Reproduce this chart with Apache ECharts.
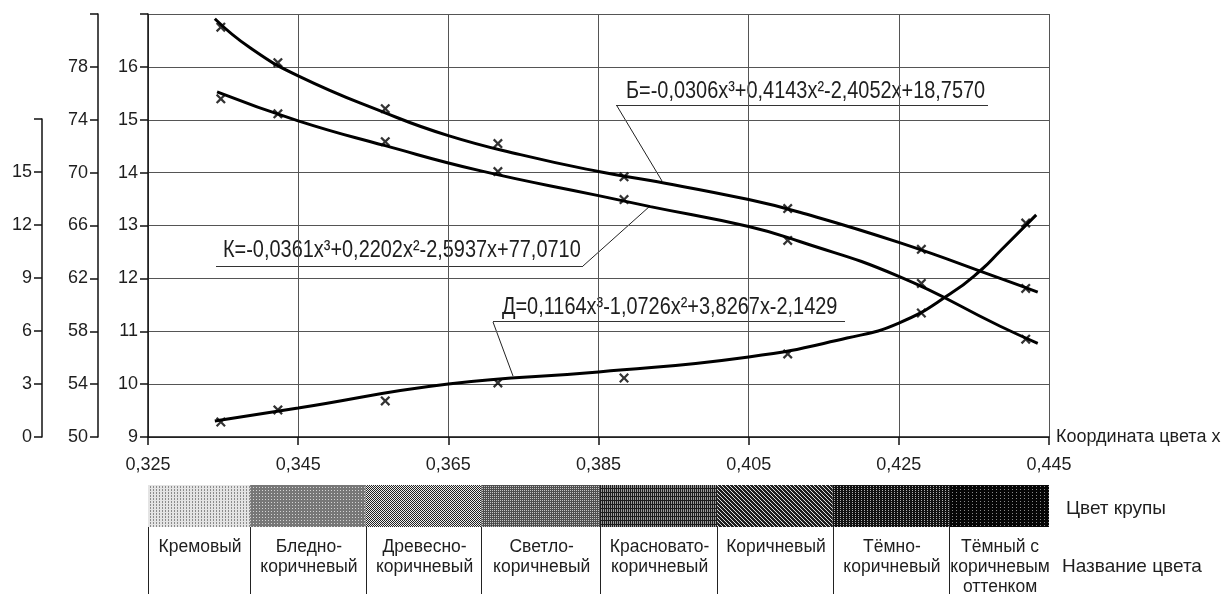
<!DOCTYPE html>
<html>
<head>
<meta charset="utf-8">
<script src="https://cdn.jsdelivr.net/npm/echarts@6/dist/echarts.min.js"></script>
<style>
  html, body { margin: 0; padding: 0; background: #fff; }
  #chart { width: 1228px; height: 594px; }
</style>
</head>
<body>
<div id="chart"></div>
<script>
// ---------- DATA ----------
// Measured colour coordinate x of the 8 samples
const sampleX = [0.3347, 0.3423, 0.3566, 0.3716, 0.3884, 0.4102, 0.4280, 0.4419];
// Б (main axis, 9..17)
const bPoints = [16.75, 16.08, 15.21, 14.55, 13.92, 13.32, 12.55, 11.81];
// К (second axis, 50..82)
const kPoints = [75.58, 74.45, 72.34, 70.08, 67.96, 64.87, 61.62, 57.40];
// Д (third axis, 0..18)
const dPoints = [0.85, 1.53, 2.04, 3.06, 3.34, 4.70, 7.02, 12.11];

// Trend curves
const bCurveX = [0.3339, 0.3386, 0.3450, 0.3566, 0.3650, 0.3746, 0.3850, 0.3919, 0.4050, 0.4118, 0.4250, 0.4385, 0.4435];
const bCurveY = [16.91, 16.36, 15.83, 15.13, 14.70, 14.34, 14.02, 13.85, 13.49, 13.25, 12.68, 12.00, 11.74];
const kCurveX = [0.3342, 0.3450, 0.3566, 0.3692, 0.3850, 0.3919, 0.4050, 0.4118, 0.4250, 0.4385, 0.4435];
const kCurveY = [76.11, 73.92, 72.04, 70.15, 68.26, 67.43, 65.92, 64.79, 62.15, 58.38, 57.09];
const dCurveX = [0.3339, 0.3450, 0.3650, 0.3850, 0.4050, 0.4181, 0.4250, 0.4318, 0.4361, 0.4385, 0.4433];
const dCurveY = [0.91, 1.64, 3.00, 3.68, 4.53, 5.60, 6.45, 8.09, 9.51, 10.53, 12.57];

// Colour strip
const segBounds = [0.325, 0.3386, 0.3540, 0.3694, 0.3852, 0.4008, 0.4162, 0.4317, 0.445];
const colorNames = ['Кремовый', 'Бледно-\nкоричневый', 'Древесно-\nкоричневый', 'Светло-\nкоричневый',
  'Красновато-\nкоричневый', 'Коричневый', 'Тёмно-\nкоричневый', 'Тёмный с\nкоричневым\nоттенком'];

// Equations
const eqB = 'Б=-0,0306x³+0,4143x²-2,4052x+18,7570';
const eqK = 'К=-0,0361x³+0,2202x²-2,5937x+77,0710';
const eqD = 'Д=0,1164x³-1,0726x²+3,8267x-2,1429';

const xAxisName = 'Координата цвета x';
const stripName = 'Цвет крупы';
const namesName = 'Название цвета';

// ---------- STYLE ----------
const FR = '"Liberation Sans",Arial,sans-serif';
const TXT = '#1e1e1e';
const GRID = '#555555';

function makePattern(size, bg, fg, mask) {
  const c = document.createElement('canvas');
  c.width = size; c.height = size;
  const g = c.getContext('2d');
  g.fillStyle = bg; g.fillRect(0, 0, size, size);
  g.fillStyle = fg;
  for (let y = 0; y < size; y++) for (let x = 0; x < size; x++) if (mask(x, y)) g.fillRect(x, y, 1, 1);
  return { image: c, repeat: 'repeat' };
}
const patterns = [
  makePattern(3, '#e4e4e4', '#8c8c8c', (x, y) => x % 3 === 0 && y % 3 !== 2),
  makePattern(3, '#777777', '#d4d4d4', (x, y) => x % 3 === 1 && y % 3 === 1),
  makePattern(2, '#eeeeee', '#222222', (x, y) => (x + y) % 2 === 0),
  makePattern(4, '#4e4e4e', '#c4c4c4', (x, y) => (x + y) % 2 === 0 && x % 2 === 0),
  makePattern(4, '#9a9a9a', '#1c1c1c', (x, y) => x % 2 === 0 || y % 4 === 0),
  makePattern(4, '#1e1e1e', '#e0e0e0', (x, y) => ((x - y) % 4 + 4) % 4 === 0),
  makePattern(6, '#111111', '#b0b0b0', (x, y) => x % 3 === 0 && y % 2 === 0),
  makePattern(12, '#060606', '#8a8a8a', (x, y) => x % 4 === 0 && y % 3 === 0)
];

const segData = [];
for (let i = 0; i < segBounds.length - 1; i++) segData.push([segBounds[i], segBounds[i + 1]]);

const crossPath = 'path://M0,1.6 L1.6,0 L5,3.4 L8.4,0 L10,1.6 L6.6,5 L10,8.4 L8.4,10 L5,6.6 L1.6,10 L0,8.4 L3.4,5 Z';

const GL = 148, GR = 1228 - 1049;

const yAxisBase = {
  type: 'value',
  position: 'left',
  axisLine: { show: true, onZero: false, lineStyle: { color: '#111', width: 1.5 } },
  axisTick: { show: true, inside: false, length: 8, lineStyle: { color: '#111', width: 1.5 } },
  axisLabel: { color: TXT, fontFamily: FR, fontSize: 18, margin: 10 },
  splitLine: { show: false }
};

const lineBase = { type: 'line', smooth: 0.5, showSymbol: false, silent: true,
  lineStyle: { color: '#000', width: 3 } };
const crossBase = { type: 'scatter', symbol: crossPath, symbolSize: 10, silent: true,
  itemStyle: { color: '#000' }, z: 5 };

const eqStyle = (t) => ({ text: t, fill: TXT, font: '24px ' + FR, verticalAlign: 'middle' });

const chart = echarts.init(document.getElementById('chart'), null, { renderer: 'canvas' });
chart.setOption({
  animation: false,
  backgroundColor: '#fff',
  grid: [
    { left: GL, right: GR, top: 14, bottom: 157 },
    { left: GL, right: GR, top: 119, bottom: 157 },
    { left: GL, right: GR, top: 485, height: 42 }
  ],
  xAxis: [
    {
      gridIndex: 0, type: 'value', min: 0.325, max: 0.445, interval: 0.02,
      name: xAxisName, nameLocation: 'end', nameGap: 7,
      nameTextStyle: { color: TXT, fontFamily: FR, fontSize: 18, verticalAlign: 'middle' },
      axisLine: { show: true, onZero: false, lineStyle: { color: '#111', width: 1.5 } },
      axisTick: { show: true, length: 8, lineStyle: { color: '#111', width: 1.5 } },
      axisLabel: { color: TXT, fontFamily: FR, fontSize: 18, margin: 19,
        formatter: v => v.toFixed(3).replace('.', ',') },
      splitLine: { show: true, lineStyle: { color: GRID, width: 1 } }
    },
    { gridIndex: 1, type: 'value', min: 0.325, max: 0.445, show: false },
    { gridIndex: 2, type: 'value', min: 0.325, max: 0.445, show: false }
  ],
  yAxis: [
    Object.assign({}, yAxisBase, {
      gridIndex: 0, min: 9, max: 17, interval: 1,
      axisLabel: Object.assign({}, yAxisBase.axisLabel, { formatter: v => v === 17 ? '' : String(v) }),
      splitLine: { show: true, lineStyle: { color: GRID, width: 1 } }
    }),
    Object.assign({}, yAxisBase, {
      gridIndex: 0, min: 50, max: 82, interval: 4, offset: 50,
      axisLabel: Object.assign({}, yAxisBase.axisLabel, { formatter: v => v === 82 ? '' : String(v) })
    }),
    Object.assign({}, yAxisBase, {
      gridIndex: 1, min: 0, max: 18, interval: 3, offset: 106,
      axisLabel: Object.assign({}, yAxisBase.axisLabel, { formatter: v => v === 18 ? '' : String(v) })
    }),
    { gridIndex: 2, type: 'value', min: 0, max: 1, show: false }
  ],
  series: [
    Object.assign({}, lineBase, { name: 'Б', xAxisIndex: 0, yAxisIndex: 0,
      data: bCurveX.map((x, i) => [x, bCurveY[i]]) }),
    Object.assign({}, lineBase, { name: 'К', xAxisIndex: 0, yAxisIndex: 1,
      data: kCurveX.map((x, i) => [x, kCurveY[i]]) }),
    Object.assign({}, lineBase, { name: 'Д', xAxisIndex: 1, yAxisIndex: 2,
      data: dCurveX.map((x, i) => [x, dCurveY[i]]) }),
    Object.assign({}, crossBase, { name: 'Б точки', xAxisIndex: 0, yAxisIndex: 0,
      data: sampleX.map((x, i) => [x, bPoints[i]]) }),
    Object.assign({}, crossBase, { name: 'К точки', xAxisIndex: 0, yAxisIndex: 1,
      data: sampleX.map((x, i) => [x, kPoints[i]]) }),
    Object.assign({}, crossBase, { name: 'Д точки', xAxisIndex: 1, yAxisIndex: 2,
      data: sampleX.map((x, i) => [x, dPoints[i]]) }),
    { name: 'strip', type: 'custom', xAxisIndex: 2, yAxisIndex: 3, silent: true, clip: false,
      data: segData,
      renderItem: function (params, api) {
        const i = params.dataIndex;
        const p0 = api.coord([api.value(0), 1]);
        const p1 = api.coord([api.value(1), 0]);
        const top = p0[1], bot = p1[1];
        const lx = Math.round(p0[0]) + 0.5;
        return {
          type: 'group',
          children: [
            { type: 'rect', shape: { x: p0[0], y: top, width: p1[0] - p0[0], height: bot - top },
              style: { fill: patterns[i] } },
            { type: 'line', shape: { x1: lx, y1: bot, x2: lx, y2: bot + 70 },
              style: { stroke: '#222', lineWidth: 1 } },
            { type: 'text', x: (p0[0] + p1[0]) / 2 + 1, y: bot + 10,
              style: { text: colorNames[i], fill: TXT, font: '17.5px ' + FR, align: 'center',
                verticalAlign: 'top', lineHeight: 20 } }
          ]
        };
      }
    }
  ],
  graphic: [
    { type: 'text', x: 626, y: 91, scaleX: 0.83, style: eqStyle(eqB) },
    { type: 'line', shape: { x1: 616, y1: 105.5, x2: 988, y2: 105.5 }, style: { stroke: '#333', lineWidth: 1 } },
    { type: 'line', shape: { x1: 617, y1: 106, x2: 662, y2: 181 }, style: { stroke: '#222', lineWidth: 1 } },

    { type: 'text', x: 223, y: 250, scaleX: 0.83, style: eqStyle(eqK) },
    { type: 'line', shape: { x1: 216, y1: 266.5, x2: 583, y2: 266.5 }, style: { stroke: '#333', lineWidth: 1 } },
    { type: 'line', shape: { x1: 583, y1: 266, x2: 650, y2: 206 }, style: { stroke: '#222', lineWidth: 1 } },

    { type: 'text', x: 502, y: 307, scaleX: 0.83, style: eqStyle(eqD) },
    { type: 'line', shape: { x1: 493, y1: 321.5, x2: 845, y2: 321.5 }, style: { stroke: '#333', lineWidth: 1 } },
    { type: 'line', shape: { x1: 493, y1: 322, x2: 513, y2: 376 }, style: { stroke: '#222', lineWidth: 1 } },

    { type: 'text', x: 1066, y: 509, style: { text: stripName, fill: TXT, font: '19px ' + FR, verticalAlign: 'middle' } },
    { type: 'text', x: 1062, y: 567, style: { text: namesName, fill: TXT, font: '19px ' + FR, verticalAlign: 'middle' } }
  ]
});
</script>
</body>
</html>
